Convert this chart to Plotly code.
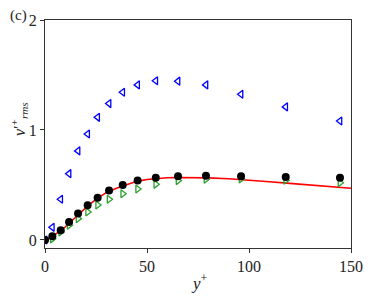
import plotly.graph_objects as go

# data
y_plus = [0, 3.6, 7.7, 11.8, 16.2, 20.9, 25.8, 31.4, 38.1, 45.4, 54.3, 65.2, 78.9, 96.1, 118.0, 144.6]
v_black = [0.0, 0.034, 0.088, 0.164, 0.24, 0.315, 0.385, 0.45, 0.50, 0.54, 0.566, 0.58, 0.585, 0.58, 0.573, 0.566]
v_green = [0.0, 0.01, 0.073, 0.134, 0.194, 0.255, 0.318, 0.37, 0.42, 0.464, 0.506, 0.54, 0.552, 0.555, 0.543, 0.52]
v_blue = [0.0, 0.115, 0.37, 0.603, 0.81, 0.964, 1.115, 1.24, 1.343, 1.41, 1.448, 1.444, 1.41, 1.325, 1.21, 1.082]

dns_y = [0, 2, 4, 6, 8, 10, 12, 15, 18, 21, 25, 30, 35, 40, 45, 50, 55, 60, 65, 70, 75, 80, 90, 100, 110, 120, 130, 140, 150]
dns_v = [0, 0.015, 0.038, 0.062, 0.09, 0.12, 0.155, 0.21, 0.26, 0.31, 0.37, 0.43, 0.47, 0.505, 0.533, 0.55, 0.56, 0.566, 0.568, 0.568, 0.567, 0.565, 0.556, 0.545, 0.53, 0.515, 0.50, 0.485, 0.47]

x_ticks = [0, 50, 100, 150]
y_ticks = [0, 1, 2]

font = "Liberation Serif"

# page body has an 8px margin; figure is sized to fit the window
OFF = 8
W, H = 371 - OFF, 299 - OFF
L, R, T, B = 45 - OFF, 351 - OFF, 20 - OFF, 248 - OFF

fig = go.Figure()
fig.add_trace(go.Scatter(x=dns_y, y=dns_v, mode="lines",
                         line=dict(color="#ff0000", width=1.6), showlegend=False))
fig.add_trace(go.Scatter(x=y_plus, y=v_blue, mode="markers",
                         marker=dict(symbol="triangle-left-open", size=7, color="#0000ff",
                                     line=dict(width=1.3, color="#0000ff")), showlegend=False))
fig.add_trace(go.Scatter(x=y_plus, y=v_green, mode="markers",
                         marker=dict(symbol="triangle-right-open", size=7, color="#2ca02c",
                                     line=dict(width=1.3, color="#2ca02c")), showlegend=False))
fig.add_trace(go.Scatter(x=y_plus, y=v_black, mode="markers",
                         marker=dict(symbol="circle", size=8, color="black"), showlegend=False))

axis_common = dict(showgrid=False, zeroline=False, showline=True, linecolor="#333",
                   linewidth=1.2, mirror=True, ticks="outside", ticklen=4, tickwidth=1,
                   tickcolor="#333", tickfont=dict(family=font, size=16, color="#222"),
                   automargin=False)
fig.update_xaxes(range=[0, 150], tickvals=x_ticks, **axis_common)
fig.update_yaxes(range=[-0.073, 2], tickvals=y_ticks, **axis_common)

fig.update_layout(
    width=W, height=H,
    margin=dict(l=L, r=W - R, t=T, b=H - B, autoexpand=False),
    paper_bgcolor="white", plot_bgcolor="white",
)
pw = R - L
ph = B - T
def px(x):
    return (x - OFF - L) / pw
def py(y):
    return (B - (y - OFF)) / ph
fig.add_annotation(x=px(199), y=py(282), xref="paper", yref="paper",
                   xanchor="center", yanchor="middle",
                   text="<i>y</i><sup>+</sup>", showarrow=False,
                   font=dict(family=font, size=17, color="#222"))
fig.add_annotation(x=px(19), y=py(119), xref="paper", yref="paper",
                   xanchor="center", yanchor="middle",
                   text="<i>v</i>′<sup>+</sup><sub><i>rms</i></sub>", textangle=-90,
                   showarrow=False, font=dict(family=font, size=16, color="#222"))
fig.add_annotation(x=px(18), y=py(15), xref="paper", yref="paper",
                   xanchor="center", yanchor="middle",
                   text="(c)", showarrow=False,
                   font=dict(family=font, size=15, color="#222"))

fig.write_html("out.html")
